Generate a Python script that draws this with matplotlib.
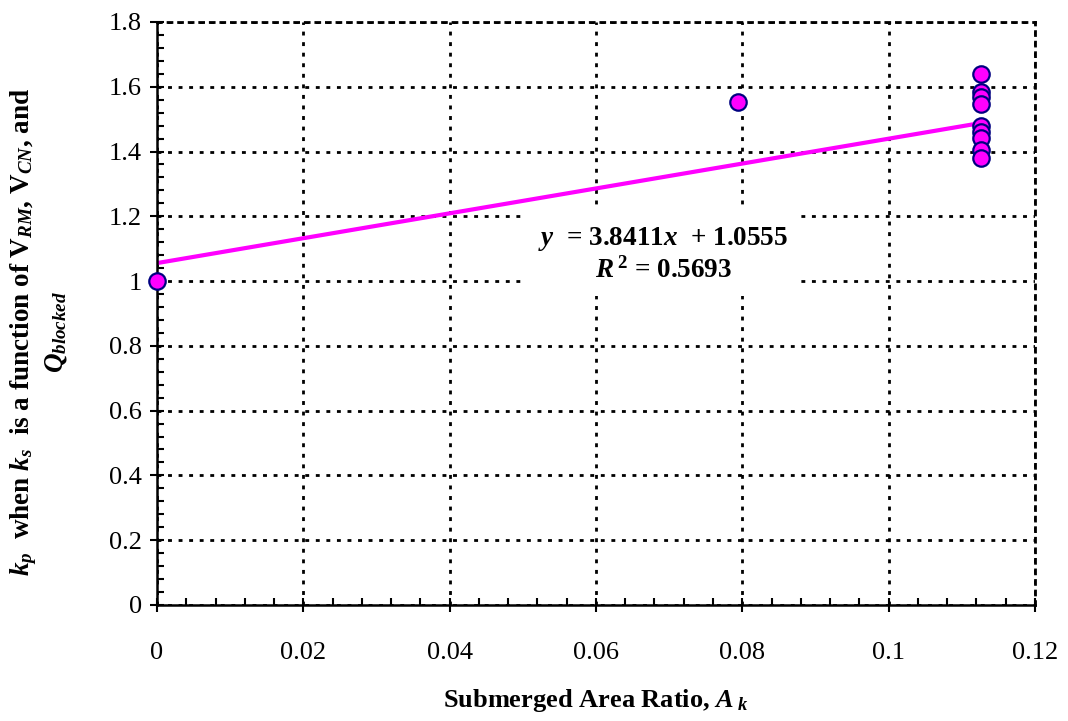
import matplotlib

matplotlib.use("Agg")
import matplotlib.pyplot as plt
from matplotlib.ticker import MultipleLocator, FuncFormatter
import numpy as np

plt.rcParams["font.family"] = ["Liberation Serif", "DejaVu Serif"]
plt.rcParams["mathtext.fontset"] = "custom"
plt.rcParams["mathtext.rm"] = "Liberation Serif:bold"
plt.rcParams["mathtext.it"] = "Liberation Serif:italic:bold"
plt.rcParams["mathtext.bf"] = "Liberation Serif:bold"

# submerged area ratio vs k_p
area_ratio = [0.0, 0.0794, 0.1126, 0.1126, 0.1126, 0.1126, 0.1126,
              0.1126, 0.1126, 0.1126, 0.1126]
kp_values = [1.0, 1.553, 1.639, 1.584, 1.569, 1.548, 1.478,
             1.461, 1.443, 1.404, 1.379]

# linear trend reported on the chart
trend_slope = 3.8411
trend_intercept = 1.0555
trend_r2 = 0.5693

x_ticks = [0, 0.02, 0.04, 0.06, 0.08, 0.1, 0.12]
y_ticks = [0, 0.2, 0.4, 0.6, 0.8, 1.0, 1.2, 1.4, 1.6, 1.8]

fig = plt.figure(figsize=(10.68, 7.21), dpi=100)
ax = fig.add_axes([0.147, 0.161, 0.822, 0.8085])

grid_style = dict(color="black", linewidth=2.0, linestyle=(0, (1.4, 2.4)))
ax.grid(True, which="major", **grid_style)
ax.set_axisbelow(True)

trend_x = np.array([min(area_ratio), max(area_ratio)])
ax.plot(trend_x, trend_slope * trend_x + trend_intercept,
        color="#FF00FF", linewidth=3, zorder=2)
ax.scatter(area_ratio, kp_values, s=140, facecolor="#FF00FF",
           edgecolor="#000080", linewidth=1.6, zorder=3, clip_on=False)

ax.set_xlim(0, 0.12)
ax.set_ylim(0, 1.8)
ax.set_xticks(x_ticks)
ax.set_yticks(y_ticks)
ax.xaxis.set_minor_locator(MultipleLocator(0.004))
ax.yaxis.set_minor_locator(MultipleLocator(0.04))
fmt = FuncFormatter(lambda v, p: f"{v:g}")
ax.xaxis.set_major_formatter(fmt)
ax.yaxis.set_major_formatter(fmt)
ax.tick_params(which="major", direction="inout", length=10, width=1.5,
               labelsize=19, pad=6)
ax.tick_params(which="minor", direction="in", length=5, width=1.5)
ax.tick_params(axis="x", pad=22)

for side in ("left", "bottom"):
    ax.spines[side].set_linewidth(1.8)
for side in ("top", "right"):
    ax.spines[side].set_linewidth(2.0)
    ax.spines[side].set_linestyle((0, (1.4, 2.4)))

ax.text(0.0692, 1.083,
        f"$y$  = {trend_slope:.4f}$x$  + {trend_intercept:.4f}\n"
        f"$R^{{\\,2}}$ = {trend_r2:.4f}",
        ha="center", va="center", fontsize=19.5, fontweight="bold",
        linespacing=1.2,
        bbox=dict(facecolor="white", edgecolor="none", pad=9), zorder=4)

ax.set_xlabel("Submerged Area Ratio, $A_{\\ k}$", fontsize=19,
              fontweight="bold")
ax.xaxis.set_label_coords(0.5, -0.14)
ax.set_ylabel("$k_p$  when $k_s$  is a function of $\\mathrm{V}_{RM}$, "
              "$\\mathrm{V}_{CN}$, and\n$Q_{blocked}$",
              fontsize=19.5, fontweight="bold", multialignment="center")
ax.yaxis.set_label_coords(-0.1, 0.468)

fig.savefig("out.png", dpi=100)
